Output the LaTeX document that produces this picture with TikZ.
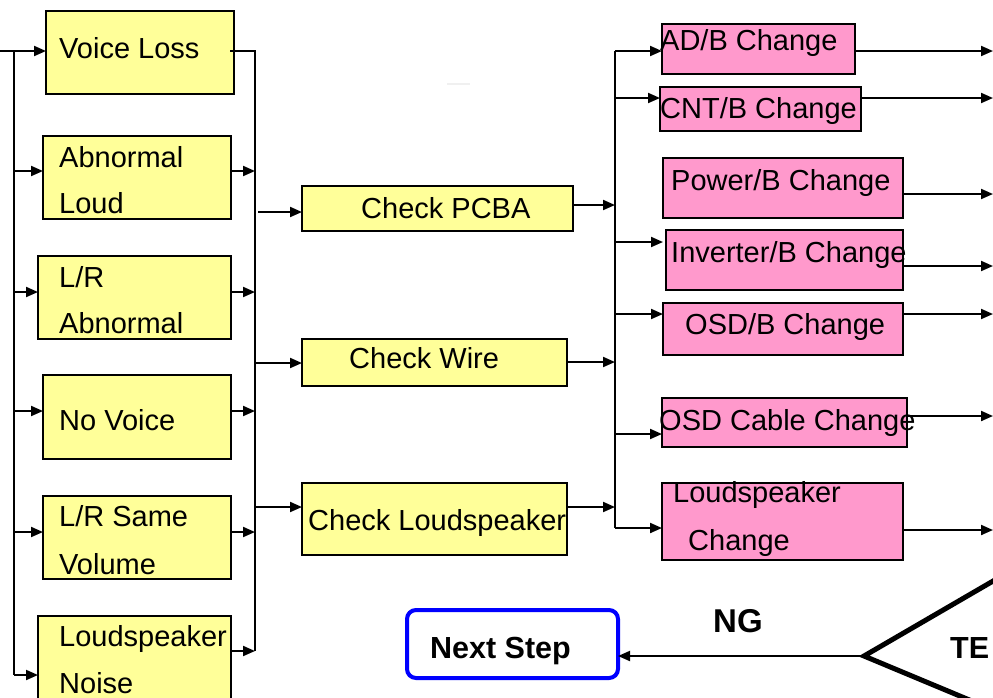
\documentclass[tikz,border=0pt]{standalone}
\usepackage{fontspec}
\setmainfont{Liberation Sans}
\usetikzlibrary{arrows.meta}
\definecolor{ybox}{HTML}{FFFF99}
\definecolor{pbox}{HTML}{FF99CC}
\begin{document}
\begin{tikzpicture}[x=1pt,y=-1pt,
  box/.style={draw=black, line width=2pt, inner sep=0pt, outer sep=0pt, anchor=north west},
  yb/.style={box, fill=ybox},
  pb/.style={box, fill=pbox},
  txt/.style={anchor=base west, inner sep=0pt, font=\fontsize{29}{35}\selectfont},
  btxt/.style={anchor=base west, inner sep=0pt, font=\fontsize{30.5}{36}\selectfont\bfseries},
  conn/.style={line width=2pt},
  arr/.style={conn, -{Triangle[length=12pt,width=10pt]}},
]
\clip (0,0) rectangle (993,697);
\fill[white] (0,0) rectangle (993,697);

% ---- left column boxes
\node[yb, minimum width=188pt, minimum height=83pt] (vl) at (46,11) {};
\node[yb, minimum width=188pt, minimum height=83pt] (al) at (43,136) {};
\node[yb, minimum width=193pt, minimum height=83pt] (lr) at (38,256) {};
\node[yb, minimum width=188pt, minimum height=84pt] (nv) at (43,375) {};
\node[yb, minimum width=188pt, minimum height=83pt] (ls) at (43,496) {};
\node[yb, minimum width=193pt, minimum height=100pt] (ln) at (38,616) {};

\node[txt] (vlt) at (59,58) {Voice Loss};
\node[txt] (alt1) at (59,167) {Abnormal};
\node[txt] (alt2) at (59,213) {Loud};
\node[txt] (lrt1) at (59,287) {L/R};
\node[txt] (lrt2) at (59,333) {Abnormal};
\node[txt] (nvt) at (59,430) {No Voice};
\node[txt] (lst1) at (59,526) {L/R Same};
\node[txt] (lst2) at (59,574) {Volume};
\node[txt] (lnt1) at (59,646) {Loudspeaker};
\node[txt] (lnt2) at (59,693) {Noise};

% ---- middle boxes
\node[yb, minimum width=271pt, minimum height=45pt] (pc) at (302,186) {};
\node[yb, minimum width=265pt, minimum height=47pt] (cw) at (302,339) {};
\node[yb, minimum width=265pt, minimum height=72pt] (cl) at (302,483) {};
\node[txt] (pct) at (361,218) {Check PCBA};
\node[txt] (cwt) at (349,368) {Check Wire};
\node[txt] (clt) at (308,530) {Check Loudspeaker};

% ---- right boxes
\node[pb, minimum width=193pt, minimum height=50pt] (ad) at (662,24) {};
\node[pb, minimum width=201pt, minimum height=44pt] (cn) at (660,87) {};
\node[pb, minimum width=240pt, minimum height=60pt] (pw) at (663,158) {};
\node[pb, minimum width=237pt, minimum height=60pt] (iv) at (666,230) {};
\node[pb, minimum width=240pt, minimum height=52pt] (os) at (663,303) {};
\node[pb, minimum width=245pt, minimum height=49pt] (oc) at (662,398) {};
\node[pb, minimum width=241pt, minimum height=77pt] (lc) at (662,483) {};
\node[txt] (adt) at (660,50) {AD/B Change};
\node[txt] (cnt) at (660,118) {CNT/B Change};
\node[txt] (pwt) at (671,190) {Power/B Change};
\node[txt] (ivt) at (671,262) {Inverter/B Change};
\node[txt] (ost) at (685,334) {OSD/B Change};
\node[txt] (oct) at (659,430) {OSD Cable Change};
\node[txt] (lct1) at (673,502) {Loudspeaker};
\node[txt] (lct2) at (688,550) {Change};

% ---- next step / decision
\node[box, draw=blue, line width=4pt, rounded corners=9pt, minimum width=211pt, minimum height=68pt] (ns) at (407,610) {};
\node[btxt] (nst) at (430,658) {Next Step};
\node[btxt, font=\fontsize{33}{38}\selectfont\bfseries] (ng) at (713,632) {NG};
\node[btxt] (te) at (950,658) {TE};

% ---- left input bus
\coordinate (in) at (0,51);
\coordinate (lb1) at (14,51);
\coordinate (lb2) at (14,171);
\coordinate (lb3) at (14,292);
\coordinate (lb4) at (14,411);
\coordinate (lb5) at (14,532);
\coordinate (lb6) at (14,675);
\draw[arr] (in) -- (vl.west |- in);
\draw[conn] (lb1) -- (lb6);
\draw[arr] (lb2) -- (al.west |- lb2);
\draw[arr] (lb3) -- (lr.west |- lb3);
\draw[arr] (lb4) -- (nv.west |- lb4);
\draw[arr] (lb5) -- (ls.west |- lb5);
\draw[arr] (lb6) -- (ln.west |- lb6);

% ---- right collector bus of left column
\coordinate (rb1) at (255,51);
\coordinate (rb2) at (255,171);
\coordinate (rb3) at (255,292);
\coordinate (rb4) at (255,411);
\coordinate (rb5) at (255,532);
\coordinate (rb6) at (255,651);
\draw[conn] ([xshift=-4pt]vl.east |- rb1) -- (rb1) -- (rb6);
\draw[arr] (al.east |- rb2) -- (rb2);
\draw[arr] (lr.east |- rb3) -- (rb3);
\draw[arr] (nv.east |- rb4) -- (rb4);
\draw[arr] (ls.east |- rb5) -- (rb5);
\draw[arr] (ln.east |- rb6) -- (rb6);

% ---- to middle boxes
\coordinate (m1) at (258,212);
\coordinate (m2) at (255,363);
\coordinate (m3) at (255,507);
\draw[arr] (m1) -- (pc.west |- m1);
\draw[arr] (m2) -- (cw.west |- m2);
\draw[arr] (m3) -- (cl.west |- m3);

% ---- middle to right bus
\coordinate (n1) at (615,205);
\coordinate (n2) at (615,362);
\coordinate (n3) at (615,507);
\draw[arr] (pc.east |- n1) -- (n1);
\draw[arr] (cw.east |- n2) -- (n2);
\draw[arr] (cl.east |- n3) -- (n3);

% ---- right bus branches
\coordinate (b1) at (615,51);
\coordinate (b2) at (615,98);
\coordinate (b4) at (615,242);
\coordinate (b5) at (615,314);
\coordinate (b6) at (615,434);
\coordinate (b7) at (615,528);
\draw[conn] (b1) -- (b7);
\draw[arr] (b1) -- (ad.west |- b1);
\draw[arr] (b2) -- (cn.west |- b2);
\draw[arr] (b4) -- ([xshift=-3pt]iv.west |- b4);
\draw[arr] (b5) -- (os.west |- b5);
\draw[arr] (b6) -- (oc.west |- b6);
\draw[arr] (b7) -- (lc.west |- b7);

% ---- outputs to the right
\coordinate (o1) at (993,51);
\coordinate (o2) at (993,98);
\coordinate (o3) at (993,194);
\coordinate (o4) at (993,266);
\coordinate (o5) at (993,314);
\coordinate (o6) at (993,416);
\coordinate (o7) at (993,530);
\draw[arr] (ad.east |- o1) -- (o1);
\draw[arr] (cn.east |- o2) -- (o2);
\draw[arr] (pw.east |- o3) -- (o3);
\draw[arr] (iv.east |- o4) -- (o4);
\draw[arr] (os.east |- o5) -- (o5);
\draw[arr] (oc.east |- o6) -- (o6);
\draw[arr] (lc.east |- o7) -- (o7);

% ---- decision (partly off page)
\coordinate (dv) at (864,656);
\coordinate (du) at (1000,577);
\coordinate (dd) at (1003,714);
\draw[line width=5pt, line join=miter] (du) -- (dv) -- (dd);
\draw[arr] (dv) -- (ns.east |- dv);

% faint mark
\draw[black!6, line width=1.2pt] (447,84) -- (470,84);
\end{tikzpicture}
\end{document}
